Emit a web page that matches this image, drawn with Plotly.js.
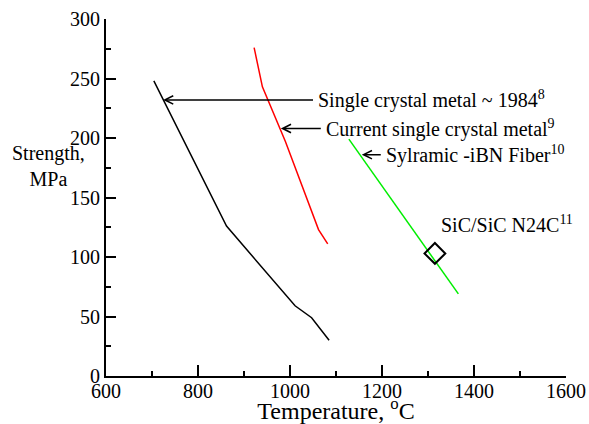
<!DOCTYPE html>
<html>
<head>
<meta charset="utf-8">
<script src="https://cdn.plot.ly/plotly-3.0.1.min.js"></script>
<style>html,body{margin:0;padding:0;background:#fff;}#chart{width:589px;height:424px;}</style>
</head>
<body>
<div id="chart"></div>
<script>
// Single crystal metal ~1984 (black)
const metal1984_T = [704, 862, 1011, 1047, 1085];
const metal1984_S = [248, 126, 59, 49, 30];
// Current single crystal metal (red)
const metalCur_T = [922, 940, 990, 1062, 1082];
const metalCur_S = [276, 243, 197, 123, 111];
// Sylramic-iBN fiber (green)
const fiber_T = [1128, 1366];
const fiber_S = [199, 69];
// SiC/SiC N24C point
const cmc_T = [1315];
const cmc_S = [103];

// label texts and the data points their arrows point at
const labelTexts = [
  "Single crystal metal ~ 1984<sup>8</sup>",
  "Current single crystal metal<sup>9</sup>",
  "Sylramic -iBN Fiber<sup>10</sup>"
];
const arrowHeadT = [724, 980, 1156];
const arrowHeadS = [232, 208, 186];
const cmcLabel = "SiC/SiC N24C<sup>11</sup>";

const fontFam = 'Liberation Serif';
const arrowOffsets = [150, 40, 19];

const traces = [
  {x: metal1984_T, y: metal1984_S, mode: 'lines', line: {color: '#000000', width: 1.5}},
  {x: metalCur_T, y: metalCur_S, mode: 'lines', line: {color: '#ff0000', width: 1.5}},
  {x: fiber_T, y: fiber_S, mode: 'lines', line: {color: '#00ee00', width: 1.5}},
  {x: cmc_T, y: cmc_S, mode: 'markers', marker: {symbol: 'diamond-open', size: 16, color: '#000000', line: {width: 2, color: '#000000'}}}
];

const annotations = labelTexts.map((t, i) => ({
  x: arrowHeadT[i], y: arrowHeadS[i], xref: 'x', yref: 'y',
  text: t, showarrow: true, ax: arrowOffsets[i], ay: 0,
  xanchor: 'left', yanchor: 'middle', borderpad: 4,
  arrowhead: 5, arrowsize: 1.1, arrowwidth: 1.5, arrowcolor: '#000000',
  font: {family: fontFam, size: 20, color: '#000000'}
}));
annotations.push({x: 1324, y: 128, xref: 'x', yref: 'y', text: cmcLabel, showarrow: false,
  xanchor: 'left', yanchor: 'middle', font: {family: fontFam, size: 20, color: '#000000'}});
annotations.push({x: -0.124, y: 0.587, xref: 'paper', yref: 'paper', text: 'Strength,<br>MPa', showarrow: false,
  xanchor: 'center', yanchor: 'middle', align: 'center', font: {family: fontFam, size: 20, color: '#000000'}});

const layout = {
  width: 589, height: 424,
  margin: {l: 106, r: 23, t: 19, b: 48},
  showlegend: false,
  font: {family: fontFam, size: 20, color: '#000000'},
  xaxis: {
    range: [600, 1600], dtick: 200, tick0: 600,
    showgrid: false, zeroline: false, showline: true, linecolor: '#000000', linewidth: 2,
    ticks: 'inside', ticklen: 11, tickwidth: 2, tickcolor: '#000000', ticklabelstandoff: -4,
    minor: {ticks: 'inside', ticklen: 5, tickwidth: 2, tickcolor: '#000000', dtick: 100},
    tickfont: {family: fontFam, size: 20, color: '#000000'},
    title: {text: 'Temperature, <sup>o</sup>C', standoff: 8}
  },
  yaxis: {
    range: [0, 300], dtick: 50, tick0: 0,
    showgrid: false, zeroline: false, showline: true, linecolor: '#000000', linewidth: 2,
    ticks: 'inside', ticklen: 10, tickwidth: 2, tickcolor: '#000000',
    minor: {ticks: 'inside', ticklen: 5, tickwidth: 2, tickcolor: '#000000', dtick: 25},
    tickfont: {family: fontFam, size: 20, color: '#000000'}
  },
  annotations: annotations
};

Plotly.newPlot('chart', traces, layout, {staticPlot: true});
</script>
</body>
</html>
